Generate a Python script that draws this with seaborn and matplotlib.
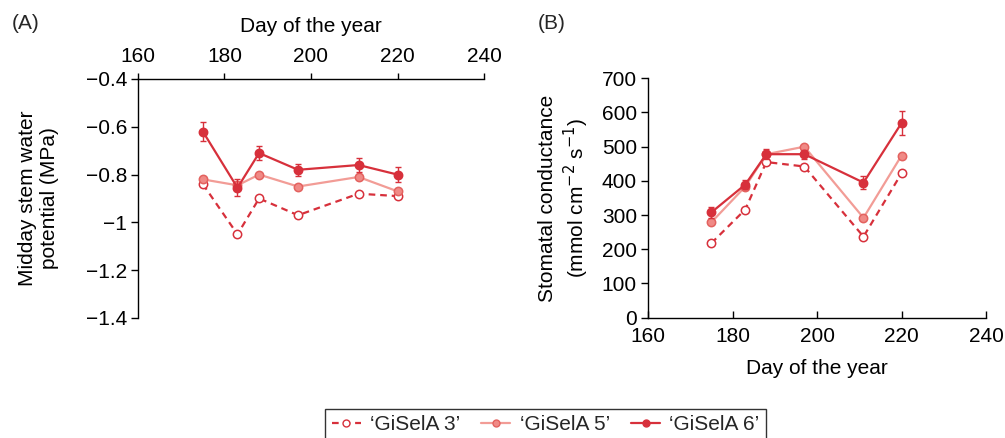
import matplotlib
matplotlib.use("Agg")
import matplotlib.pyplot as plt
from matplotlib.lines import Line2D
import seaborn as sns
import pandas as pd

# Sampling days
days = [175, 183, 188, 197, 211, 220]

cultivars = ["\u2018GiSelA 3\u2019", "\u2018GiSelA 5\u2019", "\u2018GiSelA 6\u2019"]

# Midday stem water potential (MPa)
swp_gisela3 = [-0.84, -1.05, -0.90, -0.97, -0.88, -0.89]
swp_gisela5 = [-0.82, -0.845, -0.80, -0.85, -0.81, -0.87]
swp_gisela6 = [-0.62, -0.855, -0.71, -0.78, -0.76, -0.80]
swp_gisela6_err = [0.04, 0.035, 0.03, 0.024, 0.03, 0.032]

# Stomatal conductance (mmol cm-2 s-1)
gs_gisela3 = [218, 316, 455, 442, 237, 422]
gs_gisela5 = [279, 383, 478, 500, 292, 474]
gs_gisela6 = [308, 389, 478, 478, 395, 569]
gs_gisela6_err = [17, 14, 14, 13, 18, 36]

x_ticks = [160, 180, 200, 220, 240]
swp_ticks = [-0.4, -0.6, -0.8, -1.0, -1.2, -1.4]
swp_ticklabels = ["\u22120.4", "\u22120.6", "\u22120.8", "\u22121", "\u22121.2", "\u22121.4"]
gs_ticks = [0, 100, 200, 300, 400, 500, 600, 700]

DARK = "#d7303b"
LIGHT = "#f29c96"
LIGHT_FACE = "#f08a86"
FS = 15

sns.set_theme(style="white")
plt.rcParams["font.family"] = ["Liberation Sans", "DejaVu Sans"]
plt.rcParams.update({
    "font.size": FS,
    "axes.labelsize": FS,
    "xtick.labelsize": FS,
    "ytick.labelsize": FS,
    "legend.fontsize": FS,
    "axes.linewidth": 1.0,
})

styles = {
    cultivars[0]: dict(color=DARK, linestyle=(0, (3.0, 2.2)), marker="o",
                       markerfacecolor="white", markeredgecolor=DARK),
    cultivars[1]: dict(color=LIGHT, linestyle="-", marker="o",
                       markerfacecolor=LIGHT_FACE, markeredgecolor="#e3625f"),
    cultivars[2]: dict(color=DARK, linestyle="-", marker="o",
                       markerfacecolor=DARK, markeredgecolor=DARK),
}


def draw_panel(ax, series, err6):
    for name, vals in zip(cultivars, series):
        df = pd.DataFrame({"day": days, "value": vals})
        st = styles[name]
        sns.lineplot(data=df, x="day", y="value", ax=ax, color=st["color"],
                     linestyle=st["linestyle"], marker=st["marker"],
                     markerfacecolor=st["markerfacecolor"],
                     markeredgecolor=st["markeredgecolor"], markeredgewidth=1.1,
                     markersize=6, linewidth=1.6, legend=False, zorder=3)
    ax.errorbar(days, series[2], yerr=err6, fmt="none", ecolor=DARK,
                elinewidth=1.0, capsize=2.2, capthick=1.0, zorder=4)
    ax.set_xlim(160, 240)
    ax.set_xticks(x_ticks)
    ax.set_facecolor("white")
    for s in ax.spines.values():
        s.set_color("black")


fig = plt.figure(figsize=(10.05, 4.38), dpi=100)
ax_a = fig.add_axes([0.1373, 0.274, 0.3443, 0.5457])
ax_b = fig.add_axes([0.6448, 0.2747, 0.3363, 0.5466])

# (A) stem water potential, day axis on top
draw_panel(ax_a, [swp_gisela3, swp_gisela5, swp_gisela6], swp_gisela6_err)
ax_a.set_ylim(-1.4, -0.4)
ax_a.set_yticks(swp_ticks)
ax_a.set_yticklabels(swp_ticklabels)
ax_a.xaxis.tick_top()
ax_a.xaxis.set_label_position("top")
ax_a.spines["bottom"].set_visible(False)
ax_a.spines["right"].set_visible(False)
ax_a.tick_params(axis="x", which="both", top=True, bottom=False, direction="out",
                 length=4.5, width=1, pad=4.5, colors="black")
ax_a.tick_params(axis="y", left=True, direction="out", length=5, width=1, pad=3,
                 colors="black")
ax_a.set_xlabel("Day of the year", labelpad=11)
ax_a.set_ylabel("Midday stem water\npotential (MPa)", labelpad=19)

# (B) stomatal conductance
draw_panel(ax_b, [gs_gisela3, gs_gisela5, gs_gisela6], gs_gisela6_err)
ax_b.set_ylim(0, 700)
ax_b.set_yticks(gs_ticks)
ax_b.spines["top"].set_visible(False)
ax_b.spines["right"].set_visible(False)
ax_b.tick_params(axis="x", bottom=True, direction="in", length=5, width=1, pad=7,
                 colors="black")
ax_b.tick_params(axis="y", left=True, direction="out", length=5, width=1, pad=3,
                 colors="black")
ax_b.set_xlabel("Day of the year", labelpad=9)
ax_b.set_ylabel("Stomatal conductance\n(mmol cm$^{-2}$ s$^{-1}$)", labelpad=8)

for ax in (ax_a, ax_b):
    ax.xaxis.label.set_color("black")
    ax.yaxis.label.set_color("black")

fig.text(0.012, 0.968, "(A)", fontsize=FS, va="top", ha="left")
fig.text(0.535, 0.968, "(B)", fontsize=FS, va="top", ha="left")

handles = []
for name in cultivars:
    st = styles[name]
    handles.append(Line2D([0], [0], color=st["color"], linestyle=st["linestyle"],
                          marker=st["marker"], markerfacecolor=st["markerfacecolor"],
                          markeredgecolor=st["markeredgecolor"], markersize=5,
                          linewidth=1.6, label=name))
leg = fig.legend(handles=handles, loc="upper center", bbox_to_anchor=(0.543, 0.066),
                 ncol=3, frameon=True, fancybox=False, edgecolor="black",
                 handlelength=1.4, columnspacing=1.0, handletextpad=0.45,
                 borderpad=0.3, borderaxespad=0.0, fontsize=FS)
leg.get_frame().set_linewidth(1.0)

fig.savefig("out.png", dpi=100, facecolor="white")
